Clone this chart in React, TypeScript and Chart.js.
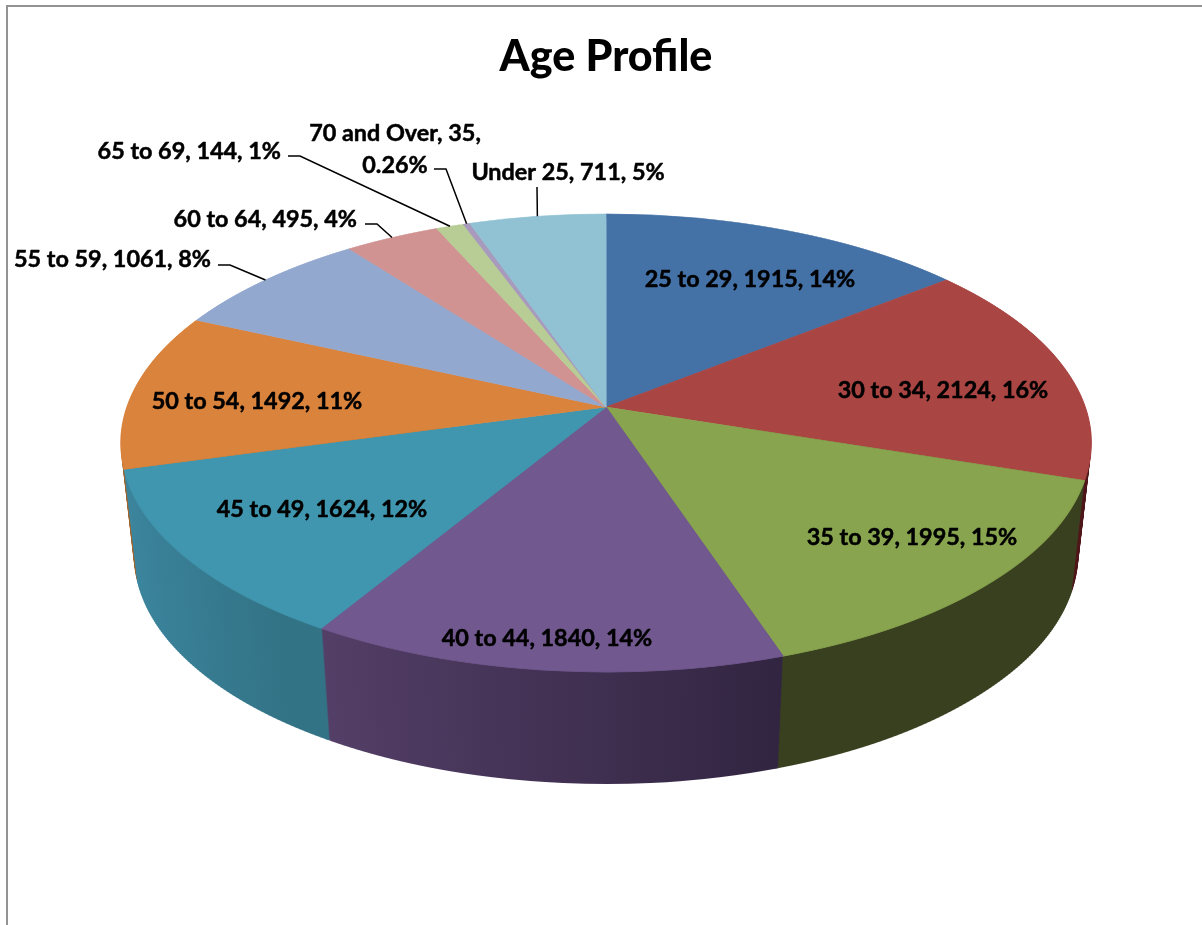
import React, { useEffect, useRef } from "react";
import { Chart, registerables } from "chart.js";

Chart.register(...registerables);

const categories = ["25 to 29", "30 to 34", "35 to 39", "40 to 44", "45 to 49", "50 to 54", "55 to 59", "60 to 64", "65 to 69", "70 and Over", "Under 25"];
const counts = [1915, 2124, 1995, 1840, 1624, 1492, 1061, 495, 144, 35, 711];
const percentLabels = ["14%", "16%", "15%", "14%", "12%", "11%", "8%", "4%", "1%", "0.26%", "5%"];
const faceColors = ["#4471a6", "#a94543", "#88a44e", "#71588e", "#4096ae", "#da833c", "#93a8cf", "#d09392", "#b8cd96", "#a89abc", "#91c2d4"];
const wallStops: string[][] = [
  ["#2c4a6e", "#2c4a6e"], ["#6b1e22", "#4a1518"], ["#394020", "#394020"], ["#57416b", "#2f233e"],
  ["#3c87a0", "#337386"], ["#a5672f", "#8d5526"], ["#6f7f9c", "#6f7f9c"], ["#9c6e6d", "#9c6e6d"],
  ["#8a9a70", "#8a9a70"], ["#7e738d", "#7e738d"], ["#6c929f", "#6c929f"],
];

// Perspective of the pie's tilted disc
const CX = 606, APEX_Y = 407, A = 223.3, C = -0.1572, KR = 479, DEPTH = 112, SHRINK = 0.027;
const FRAME = "#939393";

// text anchors: [x, y, align] per category
const labelPos: [number, number, CanvasTextAlign][] = [
  [750, 279, "center"], [943, 390, "center"], [912, 537, "center"], [547, 638, "center"],
  [322, 509, "center"], [257, 401, "center"], [211, 259, "right"], [357, 219, "right"],
  [281, 151, "right"], [395, 133, "center"], [568, 172, "center"],
];
// leader starting polyline per category (joined to the slice's rim at its mid-angle)
const leaders: Record<number, [number, number][]> = {
  6: [[218, 265], [230, 265]],
  7: [[365, 224], [377, 224]],
  8: [[288, 156], [300, 156]],
  9: [[434, 169], [446, 169]],
  10: [[537, 187]],
};

function drawStrips(ctx: CanvasRenderingContext2D, arcs: any[], depth: number, yFrom: number, yTo: number, step: number, width: number) {
  const yOff = depth * DEPTH;
  const f = 1 - depth * SHRINK;
  for (let y = yFrom; y < yTo; y += step) {
    const t = y + step / 2 - yOff - APEX_Y;
    const v = t / (A - C * t);
    if (v < -1.02 || v > 1.02) continue;
    const w = 1 + C * v;
    const s = (KR * f) / w;
    const dydv = A / (w * w);
    for (const arc of arcs) {
      const R = arc.outerRadius;
      const a = s / R;
      const d = dydv / R;
      ctx.save();
      ctx.setTransform(1, 0, 0, 1, 0, 0);
      ctx.beginPath();
      ctx.rect(0, y, width, step);
      ctx.clip();
      ctx.setTransform(a, 0, 0, d, CX - a * arc.x, y + step / 2 - d * (arc.y + v * R));
      arc.draw(ctx);
      ctx.restore();
    }
  }
}

function project(angle: number) {
  const u = Math.cos(angle), v = Math.sin(angle);
  const w = 1 + C * v;
  return [CX + (KR * u) / w, APEX_Y + (A * v) / w];
}

const pie3d = {
  id: "pie3d",
  beforeDatasetsDraw(chart: any) {
    const ctx: CanvasRenderingContext2D = chart.ctx;
    const arcs: any[] = chart.getDatasetMeta(0).data;
    const width = chart.width;
    const front = arcs.filter((a) => {
      const contains = a.startAngle <= Math.PI / 2 && a.endAngle >= Math.PI / 2;
      return contains || Math.sin(a.startAngle) > 0 || Math.sin(a.endAngle) > 0;
    });
    const saved = new Map<any, any>();
    front.forEach((arc) => {
      const i = arcs.indexOf(arc);
      saved.set(arc, arc.options);
      const p0 = project(arc.startAngle)[0], p1 = project(arc.endAngle)[0];
      const R = arc.outerRadius;
      const lo = Math.min(p0, p1), hi = Math.max(p0, p1);
      const g = ctx.createLinearGradient(arc.x + ((lo - CX) / KR) * R, 0, arc.x + ((hi - CX) / KR) * R, 0);
      g.addColorStop(0, wallStops[i][0]);
      g.addColorStop(1, wallStops[i][1]);
      arc.options = { ...arc.options, backgroundColor: g, borderWidth: 0 };
    });
    for (let px = DEPTH; px >= 1; px -= 1) {
      const yOff = px;
      drawStrips(ctx, front, px / DEPTH, Math.round(APEX_Y + 20 + yOff), Math.round(680 + yOff), 2, width);
    }
    front.forEach((arc) => { arc.options = saved.get(arc); });
    drawStrips(ctx, arcs, 0, 210, 680, 1, width);
    return false;
  },
  afterDraw(chart: any) {
    const ctx: CanvasRenderingContext2D = chart.ctx;
    const arcs: any[] = chart.getDatasetMeta(0).data;
    ctx.save();
    // chart frame
    ctx.strokeStyle = FRAME;
    ctx.lineWidth = 2;
    ctx.beginPath();
    ctx.moveTo(7, 925);
    ctx.lineTo(7, 6);
    ctx.lineTo(1212, 6);
    ctx.stroke();
    // leaders
    ctx.strokeStyle = "#000";
    ctx.lineWidth = 1.5;
    Object.keys(leaders).forEach((k) => {
      const i = Number(k);
      const arc = arcs[i];
      const pts = leaders[i];
      const end = project((arc.startAngle + arc.endAngle) / 2);
      ctx.beginPath();
      ctx.moveTo(pts[0][0], pts[0][1]);
      pts.slice(1).forEach((p) => ctx.lineTo(p[0], p[1]));
      ctx.lineTo(end[0], end[1]);
      ctx.stroke();
    });
    // labels
    ctx.fillStyle = "#000";
    ctx.strokeStyle = "#000";
    ctx.lineWidth = 0.5;
    ctx.lineJoin = "round";
    ctx.font = "bold 23.4px Lato, 'Open Sans', sans-serif";
    ctx.textBaseline = "middle";
    const put = (s: string, x: number, y: number) => {
      ctx.fillText(s, x, y);
      ctx.strokeText(s, x, y);
    };
    categories.forEach((c, i) => {
      const [x, y, align] = labelPos[i];
      ctx.textAlign = align;
      if (c === "70 and Over") {
        put(`${c}, ${counts[i]},`, x, y);
        put(percentLabels[i], x, y + 32);
      } else {
        put(`${c}, ${counts[i]}, ${percentLabels[i]}`, x, y);
      }
    });
    ctx.restore();
  },
};

export default function App() {
  const ref = useRef<HTMLCanvasElement>(null);
  useEffect(() => {
    const chart = new Chart(ref.current!, {
      type: "pie",
      data: {
        labels: categories,
        datasets: [{ data: counts, backgroundColor: faceColors, borderColor: faceColors, borderWidth: 1 }],
      },
      options: {
        responsive: false,
        animation: false,
        plugins: {
          legend: { display: false },
          tooltip: { enabled: false },
          title: {
            display: true,
            text: "Age Profile",
            color: "#000",
            font: { family: "Lato, 'Open Sans', sans-serif", size: 43, weight: "900" },
            padding: { top: 31, bottom: 10 },
          },
        },
      },
      plugins: [pie3d],
    } as any);
    return () => chart.destroy();
  }, []);
  return (
    <div style={{ position: "fixed", left: 0, top: 0, width: 1202, height: 925, overflow: "hidden", background: "#fff" }}>
      <canvas ref={ref} width={1212} height={925} style={{ display: "block" }} />
    </div>
  );
}
